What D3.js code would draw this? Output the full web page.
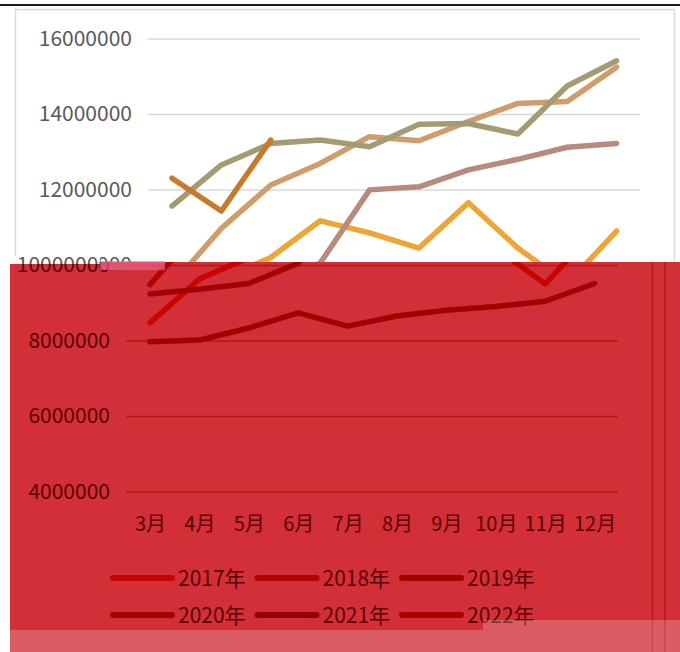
<!DOCTYPE html>
<html><head><meta charset="utf-8">
<script src="https://cdn.jsdelivr.net/npm/d3@7"></script>
<style>body{margin:0;background:#fff;} svg{display:block;}</style>
</head><body>
<svg id="c" width="680" height="652"></svg>
<script>
const months = ['3月','4月','5月','6月','7月','8月','9月','10月','11月','12月'];
const years = ['2017年','2018年','2019年','2020年','2021年','2022年'];
const v2017 = [8470000, 9630000, 10200000, 11170000, 10850000, 10450000, 11650000, 10450000, 9500000, 10900000];
const v2018 = [9480000, 10970000, 12120000, 12690000, 13400000, 13290000, 13800000, 14280000, 14330000, 15240000];
const v2019 = [7970000, 8010000, 8330000, 8730000, 8380000, 8650000, 8800000, 8900000, 9040000, 9510000];
const v2020 = [9230000, 9360000, 9510000, 10050000, 11990000, 12070000, 12520000, 12800000, 13120000, 13220000];
const v2021 = [11560000, 12650000, 13220000, 13310000, 13130000, 13730000, 13750000, 13470000, 14740000, 15410000];
const v2022 = [12300000, 11430000, 13310000];
const seriesColors = ['#eda535', '#cf9d6c', '#b8682e', '#b88a7e', '#a29b74', '#c77b2a'];
const yTicks = [4000000, 6000000, 8000000, 10000000, 12000000, 14000000, 16000000];

const allValues = [v2017, v2018, v2019, v2020, v2021, v2022];
const series = years.map((name, i) => ({name, values: allValues[i], color: seriesColors[i]}));

const svg = d3.select('#c');
const FONT = '"Noto Sans CJK SC", "Noto Sans", sans-serif';
const x = d3.scalePoint().domain(months).range([172, 616.6]);
const y = d3.scaleLinear().domain([4000000, 16000000]).range([491.5, 38.5]);

// red tint of the lower part of the picture
function tint(c) {
  const k = d3.rgb(c);
  return d3.rgb(211 * Math.pow(k.r / 255, 0.8), 47 * Math.pow(k.g / 255, 5), 56 * Math.pow(k.b / 255, 5)).formatHex();
}

svg.append('rect').attr('width', 680).attr('height', 652).attr('fill', '#fff');

function drawChart(g, tinted) {
  const t = tinted ? tint : (c => c);
  g.append('rect').attr('x', 15.5).attr('y', 9.5).attr('width', 659).attr('height', 700)
    .attr('fill', t('#ffffff')).attr('stroke', t('#d9d9d9')).attr('stroke-width', 1.5);
  const ya = g.append('g').attr('transform', 'translate(148,0)')
    .call(d3.axisLeft(y).tickValues(yTicks).tickSize(-492).tickPadding(16).tickFormat(d3.format('d')));
  ya.select('.domain').remove();
  ya.selectAll('line').attr('stroke', t('#d9d9d9')).attr('stroke-width', 1.5);
  ya.selectAll('text').attr('fill', t('#595959')).style('font-size', '21px').style('font-family', FONT);

  const xa = g.append('g').attr('transform', 'translate(0,491.5)')
    .call(d3.axisBottom(x).tickSize(0).tickPadding(25));
  xa.select('.domain').remove();
  xa.selectAll('text').attr('fill', t('#595959')).style('font-size', '20px').style('font-family', FONT);

  const line = d3.line().x((d, i) => x(months[i])).y(d => y(d));
  g.selectAll('path.series').data(series).enter().append('path')
    .attr('class', 'series').attr('d', d => line(d.values))
    .attr('fill', 'none').attr('stroke', d => t(d.color)).attr('stroke-width', 5.5)
    .attr('stroke-linecap', 'round').attr('stroke-linejoin', 'round');

  const leg = g.selectAll('g.leg').data(series).enter().append('g').attr('class', 'leg')
    .attr('transform', (d, i) => `translate(${135 + (i % 3) * 144.5},${578 + Math.floor(i / 3) * 37})`);
  leg.append('line').attr('x1', 0).attr('x2', 59).attr('y1', 0).attr('y2', 0)
    .attr('stroke', d => t(d.color)).attr('stroke-width', 6).attr('stroke-linecap', 'round');
  leg.append('text').attr('x', 65).attr('y', 8).text(d => d.name)
    .attr('fill', t('#595959')).style('font-size', '21px').style('font-family', FONT);
}

// upper (original) chart
drawChart(svg.append('g'), false);

// lower part: shifted, red-tinted copy
const defs = svg.append('defs');
defs.append('clipPath').attr('id', 'clipLow').append('path')
  .attr('d', 'M10,256 H100 V262 H680 V652 H10 Z');
defs.append('clipPath').attr('id', 'clipStrip').append('rect')
  .attr('x', 10).attr('y', 254).attr('width', 90).attr('height', 10);
const low = svg.append('g').attr('clip-path', 'url(#clipLow)');
low.append('rect').attr('x', 0).attr('y', 262).attr('width', 680).attr('height', 390).attr('fill', tint('#ffffff'));
low.append('rect').attr('x', 0).attr('y', 250).attr('width', 680).attr('height', 12).attr('fill', '#fff');
const shifted = low.append('g').attr('transform', 'translate(-22,0)');
drawChart(shifted, true);
shifted.append('line').attr('x1', 687).attr('x2', 687).attr('y1', 262).attr('y2', 652)
  .attr('stroke', tint('#d9d9d9')).attr('stroke-width', 1.5);
// untinted top of the 10000000 label at the left edge of the tinted part
low.append('rect').attr('x', 10).attr('y', 256).attr('width', 90).attr('height', 8).attr('fill', '#fff');
low.append('text').attr('x', 110).attr('y', 265).attr('dy', '0.32em').attr('text-anchor', 'end')
  .attr('fill', '#595959').style('font-size', '21px').style('font-family', FONT)
  .attr('clip-path', 'url(#clipStrip)').text(d3.format('d')(yTicks[3]));
svg.append('rect').attr('x', 100).attr('y', 261).attr('width', 65).attr('height', 9)
  .attr('fill', '#e8709a').attr('opacity', 0.6);

// lighter bottom band
svg.append('path').attr('d', 'M10,630 H483 V620 H680 V652 H10 Z').attr('fill', '#fff').attr('opacity', 0.22);

// top rule
svg.append('line').attr('x1', 0).attr('x2', 680).attr('y1', 5).attr('y2', 5)
  .attr('stroke', '#1a1a1a').attr('stroke-width', 2);
</script>
</body></html>
